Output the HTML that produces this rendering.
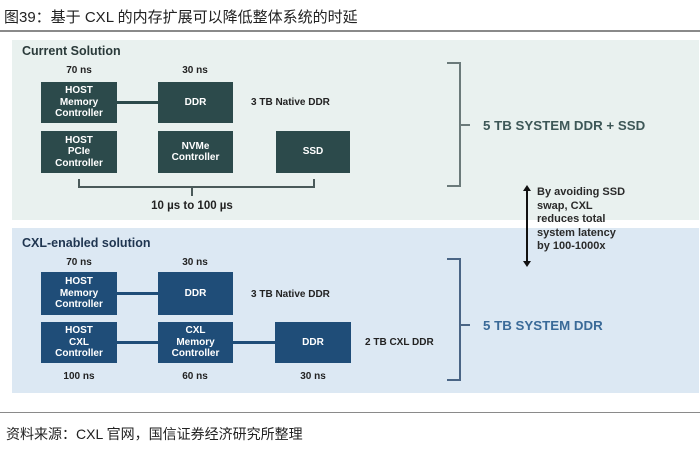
<!DOCTYPE html>
<html><head><meta charset="utf-8"><style>
*{margin:0;padding:0;box-sizing:border-box}
body{width:700px;height:454px;background:#fff;position:relative;overflow:hidden;font-family:"Liberation Sans","Noto Sans CJK SC",sans-serif}
.a{position:absolute}
.t{font-weight:bold;font-size:10px;color:#222;white-space:nowrap}
.b{position:absolute;color:#fff;font-weight:bold;font-size:10px;line-height:11.5px;display:flex;align-items:center;justify-content:center;text-align:center}
.g{background:#2c4a4b}.u{background:#1f4d78}
.c{text-align:center;transform:translateX(-50%)}
</style></head><body>
<div class="a" style="left:4px;top:6px;font-size:15px;color:#222;white-space:nowrap">图39：基于 CXL 的内存扩展可以降低整体系统的时延</div>
<div class="a" style="left:0;top:30px;width:700px;height:2px;background:#8a8a8a"></div>
<div class="a" style="left:12px;top:40px;width:687px;height:180px;background:#e9f1ef"></div>
<div class="a" style="left:12px;top:228px;width:687px;height:165px;background:#dce8f3"></div>

<div class="a t" style="left:22px;top:44px;font-size:12.5px;color:#2a3a3a">Current Solution</div>
<div class="a t c" style="left:79px;top:65px">70 ns</div>
<div class="a t c" style="left:195px;top:65px">30 ns</div>
<div class="a" style="left:117px;top:101px;width:41px;height:3px;background:#2c4a4b"></div>
<div class="b g" style="left:41px;top:82px;width:76px;height:41px">HOST<br>Memory<br>Controller</div>
<div class="b g" style="left:158px;top:82px;width:75px;height:41px">DDR</div>
<div class="a t" style="left:251px;top:97px">3 TB Native DDR</div>
<div class="b g" style="left:41px;top:131px;width:76px;height:42px">HOST<br>PCIe<br>Controller</div>
<div class="b g" style="left:158px;top:131px;width:75px;height:42px">NVMe<br>Controller</div>
<div class="b g" style="left:276px;top:131px;width:74px;height:42px">SSD</div>
<div class="a" style="left:78px;top:179px;width:237px;height:9px;border:2px solid #4a5a5a;border-top:none"></div>
<div class="a" style="left:191px;top:187px;width:2px;height:9px;background:#4a5a5a"></div>
<div class="a t c" style="left:192px;top:200px;font-size:11.5px">10 µs to 100 µs</div>

<div class="a" style="left:447px;top:62px;width:14px;height:125px;border:2px solid #6b7a7a;border-left:none"></div>
<div class="a" style="left:460px;top:124px;width:10px;height:2px;background:#6b7a7a"></div>
<div class="a t" style="left:483px;top:118px;font-size:13.3px;color:#3d5757">5 TB SYSTEM DDR + SSD</div>

<svg class="a" style="left:521px;top:184px" width="12" height="84"><line x1="6" y1="4" x2="6" y2="80" stroke="#111" stroke-width="2"/><path d="M2 7L6 1L10 7Z M2 77L6 83L10 77Z" fill="#111"/></svg>
<div class="a t" style="left:537px;top:186px;font-size:11px;line-height:13.5px;color:#2a2a2a">By avoiding SSD<br>swap, CXL<br>reduces total<br>system latency<br>by 100-1000x</div>

<div class="a t" style="left:22px;top:236px;font-size:12.5px;color:#1f3550">CXL-enabled solution</div>
<div class="a t c" style="left:79px;top:257px">70 ns</div>
<div class="a t c" style="left:195px;top:257px">30 ns</div>
<div class="a" style="left:117px;top:292px;width:41px;height:3px;background:#1f4d78"></div>
<div class="a" style="left:117px;top:341px;width:41px;height:3px;background:#1f4d78"></div>
<div class="a" style="left:233px;top:341px;width:43px;height:3px;background:#1f4d78"></div>
<div class="b u" style="left:41px;top:272px;width:76px;height:43px">HOST<br>Memory<br>Controller</div>
<div class="b u" style="left:158px;top:272px;width:75px;height:43px">DDR</div>
<div class="a t" style="left:251px;top:289px">3 TB Native DDR</div>
<div class="b u" style="left:41px;top:322px;width:76px;height:41px">HOST<br>CXL<br>Controller</div>
<div class="b u" style="left:158px;top:322px;width:75px;height:41px">CXL<br>Memory<br>Controller</div>
<div class="b u" style="left:275px;top:322px;width:76px;height:41px">DDR</div>
<div class="a t" style="left:365px;top:337px">2 TB CXL DDR</div>
<div class="a t c" style="left:79px;top:371px">100 ns</div>
<div class="a t c" style="left:195px;top:371px">60 ns</div>
<div class="a t c" style="left:313px;top:371px">30 ns</div>

<div class="a" style="left:447px;top:258px;width:14px;height:123px;border:2px solid #4a6585;border-left:none"></div>
<div class="a" style="left:460px;top:324px;width:10px;height:2px;background:#4a6585"></div>
<div class="a t" style="left:483px;top:318px;font-size:13.3px;color:#3a6a98">5 TB SYSTEM DDR</div>

<div class="a" style="left:0;top:412px;width:700px;height:1px;background:#8a8a8a"></div>
<div class="a" style="left:6px;top:424px;font-size:14px;color:#222;white-space:nowrap">资料来源：CXL 官网，国信证券经济研究所整理</div>
</body></html>
